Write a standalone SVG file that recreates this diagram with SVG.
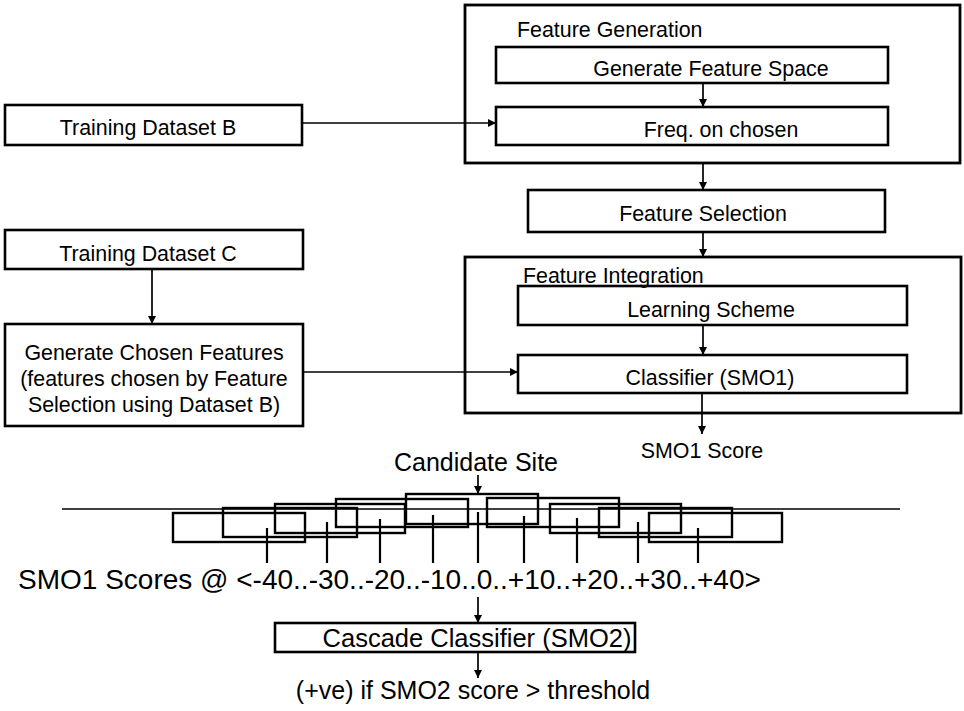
<svg xmlns="http://www.w3.org/2000/svg" width="964" height="711" viewBox="0 0 964 711">
<defs>
<style>
.box{fill:none;stroke:#000;stroke-width:2.6}
.outer{fill:none;stroke:#000;stroke-width:2.8}
.win{fill:none;stroke:#000;stroke-width:2.4}
.ln{fill:none;stroke:#000;stroke-width:1.7}
.tk{fill:none;stroke:#000;stroke-width:2.2}
.t{font-family:"Liberation Sans",Arial,sans-serif;font-size:21.4px;fill:#000}
.m{text-anchor:middle}
</style>
<marker id="ah" viewBox="0 0 10 10" refX="10" refY="5" markerWidth="8" markerHeight="8" markerUnits="userSpaceOnUse" orient="auto">
<path d="M0,0 L10,5 L0,10 z" fill="#000"/>
</marker>
</defs>
<rect width="964" height="711" fill="#fff"/>

<g id="feature-generation">
<rect class="outer" x="465" y="5" width="495" height="158"/>
<text class="t" x="517" y="37">Feature Generation</text>
</g>
<g id="generate-feature-space">
<rect class="box" x="496" y="47" width="392" height="36"/>
<text class="t m" x="711" y="76">Generate Feature Space</text>
</g>
<g id="freq-on-chosen">
<rect class="box" x="496" y="107" width="392" height="38"/>
<text class="t m" x="721" y="137">Freq. on chosen</text>
</g>
<g id="training-b">
<rect class="box" x="5" y="105" width="297" height="40"/>
<text class="t m" x="148" y="135">Training Dataset B</text>
</g>
<g id="feature-selection">
<rect class="box" x="528" y="190" width="357" height="42"/>
<text class="t m" x="703" y="221">Feature Selection</text>
</g>
<g id="training-c">
<rect class="box" x="5" y="230" width="298" height="39"/>
<text class="t m" x="148" y="261">Training Dataset C</text>
</g>
<g id="feature-integration">
<rect class="outer" x="465" y="257" width="496" height="156"/>
<text class="t" x="523" y="283">Feature Integration</text>
</g>
<g id="learning-scheme">
<rect class="box" x="518" y="286" width="389" height="39"/>
<text class="t m" x="711" y="317">Learning Scheme</text>
</g>
<g id="classifier-smo1">
<rect class="box" x="518" y="355" width="389" height="38"/>
<text class="t m" x="710" y="385">Classifier (SMO1)</text>
</g>
<g id="generate-chosen">
<rect class="box" x="5" y="324" width="298" height="102"/>
<text class="t m" x="154" y="360">Generate Chosen Features</text>
<text class="t m" x="154" y="386">(features chosen by Feature</text>
<text class="t m" x="154" y="412">Selection using Dataset B)</text>
</g>
<g id="smo1-score">
<text class="t m" x="702" y="458">SMO1 Score</text>
</g>
<g id="candidate-site">
<text class="t m" x="476" y="471" style="font-size:25px">Candidate Site</text>
</g>
<g id="windows">
<line class="ln" x1="62" y1="509" x2="900" y2="509"/>
<rect class="win" x="173" y="513" width="132" height="29"/>
<rect class="win" x="223" y="508" width="134" height="29"/>
<rect class="win" x="275" y="504" width="130" height="29"/>
<rect class="win" x="336" y="499" width="132" height="28"/>
<rect class="win" x="406" y="494" width="132" height="30"/>
<rect class="win" x="487" y="498" width="132" height="29"/>
<rect class="win" x="550" y="504" width="131" height="29"/>
<rect class="win" x="599" y="508" width="133" height="29"/>
<rect class="win" x="649" y="513" width="133" height="29"/>
<line class="tk" x1="267" y1="528" x2="267" y2="563"/>
<line class="tk" x1="327" y1="522" x2="327" y2="563"/>
<line class="tk" x1="380" y1="519" x2="380" y2="563"/>
<line class="tk" x1="433" y1="515" x2="433" y2="563"/>
<line class="tk" x1="478" y1="512" x2="478" y2="563"/>
<line class="tk" x1="524" y1="516" x2="524" y2="563"/>
<line class="tk" x1="577" y1="518" x2="577" y2="563"/>
<line class="tk" x1="638" y1="522" x2="638" y2="563"/>
<line class="tk" x1="698" y1="528" x2="698" y2="563"/>
</g>
<g id="smo1-scores">
<text class="t" x="18" y="589" style="font-size:28px">SMO1 Scores @ &lt;-40..-30..-20..-10..0..+10..+20..+30..+40&gt;</text>
</g>
<g id="cascade">
<rect class="box" x="275" y="623" width="360" height="29"/>
<text class="t m" x="477" y="647" style="font-size:25.5px">Cascade Classifier (SMO2)</text>
</g>
<g id="result">
<text class="t m" x="473" y="699" style="font-size:25px">(+ve) if SMO2 score &gt; threshold</text>
</g>

<g id="connectors">
<line class="ln" x1="703" y1="83" x2="703" y2="107" marker-end="url(#ah)"/>
<line class="ln" x1="302" y1="123" x2="496" y2="123" marker-end="url(#ah)"/>
<line class="ln" x1="703" y1="163" x2="703" y2="190" marker-end="url(#ah)"/>
<line class="ln" x1="703" y1="232" x2="703" y2="257" marker-end="url(#ah)"/>
<line class="ln" x1="703" y1="325" x2="703" y2="355" marker-end="url(#ah)"/>
<line class="ln" x1="152" y1="269" x2="152" y2="324" marker-end="url(#ah)"/>
<line class="ln" x1="303" y1="372" x2="518" y2="372" marker-end="url(#ah)"/>
<line class="ln" x1="702" y1="393" x2="702" y2="434" marker-end="url(#ah)"/>
<line class="ln" x1="478" y1="475" x2="478" y2="494" marker-end="url(#ah)"/>
<line class="ln" x1="478" y1="597" x2="478" y2="623" marker-end="url(#ah)"/>
<line class="ln" x1="478" y1="652" x2="478" y2="678" marker-end="url(#ah)"/>
</g>
</svg>
